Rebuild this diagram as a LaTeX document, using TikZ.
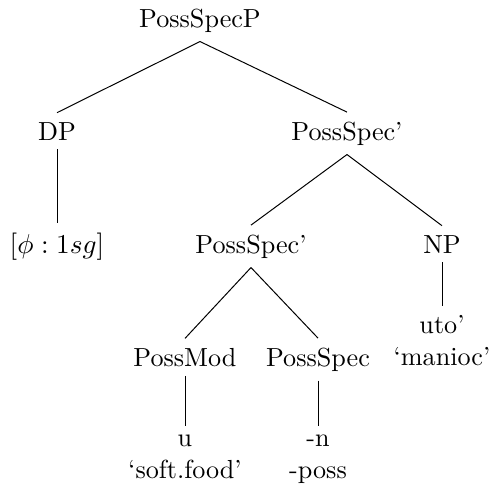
\documentclass[tikz,border=0pt]{standalone}
\usepackage{amsmath}
\usetikzlibrary{positioning}
\tikzset{
cat/.style={inner sep=3.6pt, anchor=base, font=\fontsize{10.5}{12.6}\selectfont}, leaf/.style={cat, align=center}}

\begin{document}
\begin{tikzpicture}[x=0.4016pt, y=-0.4016pt]
\useasboundingbox (0,0) rectangle (493,492);
\node [cat] at (200, 27) (pssp) {PossSpecP};
\node [cat] at (57, 140) (dp) {DP};
\node [cat] at (347, 140) (pss-1) {PossSpec'};
\node [cat] at (57, 253) (phi) {$[\phi : 1sg]$};
\node [cat] at (251, 253) (pss-2) {PossSpec'};
\node [cat] at (442, 253) (np) {NP};
\node [cat] at (185, 366) (pmod) {PossMod};
\node [cat] at (318, 366) (pspec) {PossSpec};
\node [leaf] at (442, 365) (uto) {uto'\\`manioc'};
\node [leaf] at (185, 478) (u) {u\\`soft.food'};
\node [leaf] at (318, 478) (n) {-n\\-poss};
\foreach \up/\down in {pssp/dp, pssp/pss-1, dp/phi, pss-1/pss-2, pss-1/np, pss-2/pmod, pss-2/pspec, np/uto, pmod/u, pspec/n}
  \draw (\up.south) -- (\down.north);
\end{tikzpicture}
\end{document}
